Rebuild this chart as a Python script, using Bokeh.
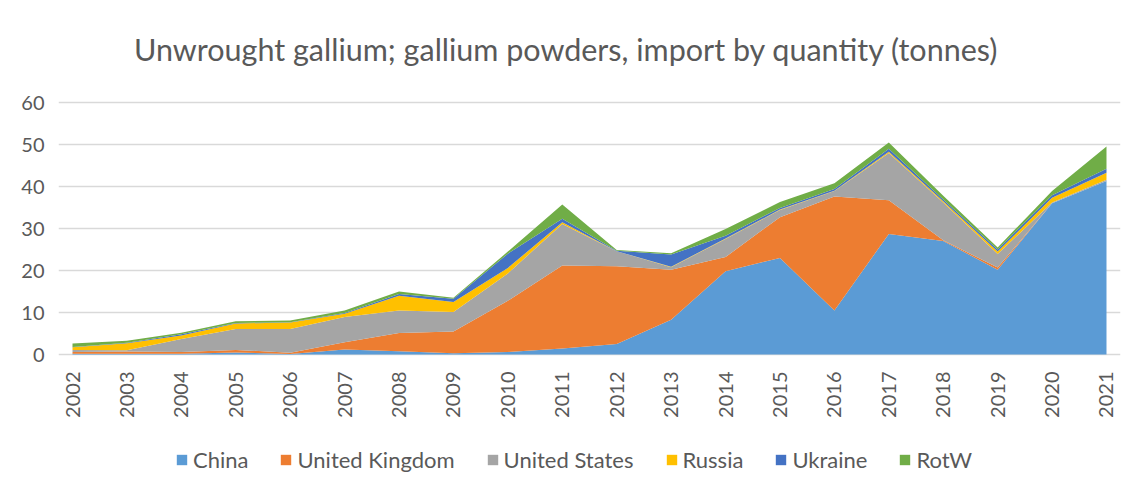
import math
from bokeh.plotting import figure
from bokeh.models import (ColumnDataSource, Range1d, FixedTicker, Legend, LegendItem, Label)
from bokeh.core.properties import value
from bokeh.embed import file_html
from bokeh.resources import INLINE

# ---- data (tonnes) ----
years = [2002, 2003, 2004, 2005, 2006, 2007, 2008, 2009, 2010, 2011,
         2012, 2013, 2014, 2015, 2016, 2017, 2018, 2019, 2020, 2021]
china = [0.2, 0.2, 0.2, 0.5, 0.1, 1.2, 0.8, 0.3, 0.6, 1.4,
         2.5, 8.3, 19.8, 23.0, 10.5, 28.7, 27.0, 20.2, 36.0, 41.3]
united_kingdom = [0.4, 0.5, 0.4, 0.6, 0.3, 1.7, 4.3, 5.2, 12.2, 19.8,
                  18.5, 11.9, 3.4, 9.7, 27.1, 8.0, 0.2, 0.5, 0.0, 0.0]
united_states = [0.5, 0.3, 3.1, 5.0, 5.7, 6.0, 5.4, 4.6, 6.5, 9.9,
                 3.6, 0.6, 4.3, 1.7, 1.3, 11.3, 9.0, 3.2, 0.2, 0.3]
russia = [0.6, 1.7, 0.8, 1.3, 1.5, 0.8, 3.5, 2.4, 1.3, 0.4,
          0.0, 0.1, 0.1, 0.1, 0.1, 0.3, 0.3, 0.6, 1.1, 1.7]
ukraine = [0.1, 0.1, 0.3, 0.1, 0.1, 0.2, 0.4, 0.8, 3.4, 0.8,
           0.1, 2.9, 0.7, 0.4, 0.4, 0.7, 0.4, 0.5, 0.6, 0.9]
rotw = [0.8, 0.5, 0.4, 0.4, 0.4, 0.6, 0.6, 0.2, 0.5, 3.4,
        0.2, 0.3, 1.6, 1.4, 1.4, 1.5, 0.9, 0.5, 1.0, 5.3]

series_names = ["China", "United Kingdom", "United States", "Russia", "Ukraine", "RotW"]
series_keys = ["china", "uk", "us", "russia", "ukraine", "rotw"]
colors = ["#5B9BD5", "#ED7D31", "#A5A5A5", "#FFC000", "#4472C4", "#70AD47"]
y_ticks = [0, 10, 20, 30, 40, 50, 60]
year_labels = [str(y) for y in years]
title_text = "Unwrought  gallium; gallium powders, import  by quantity (tonnes)"

src = ColumnDataSource(dict(year=years, label=year_labels, china=china, uk=united_kingdom,
                            us=united_states, russia=russia, ukraine=ukraine, rotw=rotw))

FONT = "Lato"
TXT = "#595959"

# The frame spans the full canvas height so that title, x labels and legend are not clipped.
# 0 sits 134 px above the bottom, 60 sits 102 px below the top (4.2 px per tonne).
PX = 4.2
H = 488
XPAD = 14 / 54.42   # a little room either side so the end labels are not cut
p = figure(width=1122, height=H, output_backend="svg", toolbar_location=None,
           x_range=Range1d(2002 - XPAD, 2021 + XPAD),
           y_range=Range1d(-(H - 354) / PX, 354 / PX),
           x_axis_location=None,
           min_border_left=58, min_border_right=2, min_border_top=0, min_border_bottom=0)
p.outline_line_color = None
p.background_fill_color = "white"
p.border_fill_color = "white"

renderers = p.varea_stack(stackers=series_keys, x="year", color=colors, source=src)

# y axis
p.yaxis.ticker = FixedTicker(ticks=y_ticks)
p.yaxis.major_label_text_font = FONT
p.yaxis.major_label_text_font_size = "20px"
p.yaxis.major_label_text_color = TXT
p.yaxis.major_label_standoff = 8
p.yaxis.axis_line_color = None
p.yaxis.major_tick_line_color = None
p.yaxis.minor_tick_line_color = None

p.xgrid.grid_line_color = None
p.ygrid.ticker = FixedTicker(ticks=y_ticks)
p.ygrid.grid_line_color = "#D9D9D9"
p.ygrid.grid_line_width = 1.5
p.ygrid.level = "underlay"

# category labels (vertical, below the baseline)
p.text(x="year", y=0, text="label", source=src, angle=math.pi / 2,
       text_align="right", text_baseline="middle", y_offset=17,
       text_font=value(FONT), text_font_size="20px", text_color=TXT)

# title
p.add_layout(Label(x=2011.22, y=72.8, text=title_text, text_font=FONT,
                   text_font_size="30.5px", text_color=TXT, text_align="center",
                   text_baseline="middle"))

# legend
items = [LegendItem(label=n, renderers=[r]) for n, r in zip(series_names, renderers)]
legend = Legend(items=items, orientation="horizontal", location=(117, 15),
                glyph_width=13, glyph_height=13, label_standoff=5, spacing=31,
                padding=0, margin=0, border_line_color=None, background_fill_alpha=0,
                label_text_font=FONT, label_text_font_size="22px", label_text_color=TXT)
p.add_layout(legend, "center")

html = file_html(p, INLINE)
open("out.html", "w").write(html)
